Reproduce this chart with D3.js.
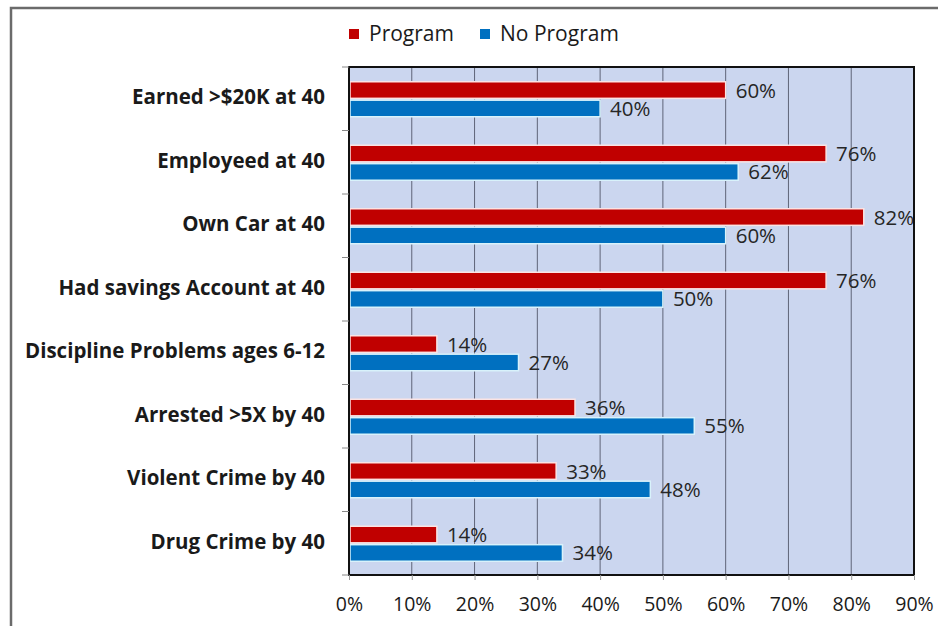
<!DOCTYPE html>
<html>
<head>
<meta charset="utf-8">
<script src="https://cdn.jsdelivr.net/npm/d3@7"></script>
<style>
  body { margin: 0; background: #fff; }
  svg { display: block; font-family: "Open Sans", "DejaVu Sans", sans-serif; }
</style>
</head>
<body>
<div id="chart"></div>
<script>
// categories, top to bottom
var categories = [
  "Earned >$20K at 40",
  "Employeed at 40",
  "Own Car at 40",
  "Had savings Account at 40",
  "Discipline Problems ages 6-12",
  "Arrested >5X by 40",
  "Violent Crime by 40",
  "Drug Crime by 40"
];
var seriesNames = ["Program", "No Program"];
var programValues = [0.60, 0.76, 0.82, 0.76, 0.14, 0.36, 0.33, 0.14];
var noProgramValues = [0.40, 0.62, 0.60, 0.50, 0.27, 0.55, 0.48, 0.34];
var xTicks = [0, 0.1, 0.2, 0.3, 0.4, 0.5, 0.6, 0.7, 0.8, 0.9];

var colors = ["#C00000", "#0070C0"];

var width = 938, height = 626;
var margin = {top: 67, right: 24, bottom: 51, left: 349};
var innerW = width - margin.left - margin.right;
var innerH = height - margin.top - margin.bottom;

var svg = d3.select("#chart").append("svg")
  .attr("width", width)
  .attr("height", height);

// outer chart frame
svg.append("rect")
  .attr("x", 11).attr("y", 8)
  .attr("width", 960).attr("height", 660)
  .attr("fill", "#fff")
  .attr("stroke", "#6b6b6b")
  .attr("stroke-width", 2.5);

var g = svg.append("g")
  .attr("transform", "translate(" + margin.left + "," + margin.top + ")");

var x = d3.scaleLinear().domain([0, 0.9]).range([0, innerW]);
var y = d3.scaleBand().domain(categories).range([0, innerH]).padding(0);
var sub = d3.scaleBand().domain(seriesNames).range([0, 35]).paddingInner(0.1);

// plot background
g.append("rect")
  .attr("width", innerW).attr("height", innerH)
  .attr("fill", "#CBD6EF");

// vertical gridlines
g.append("g").selectAll("line")
  .data(xTicks.slice(1, -1))
  .enter().append("line")
  .attr("x1", function (d) { return x(d); })
  .attr("x2", function (d) { return x(d); })
  .attr("y1", 0).attr("y2", innerH)
  .attr("stroke", "#5f6478")
  .attr("stroke-width", 1);

// bars
var groups = g.append("g").selectAll("g")
  .data(categories)
  .enter().append("g")
  .attr("transform", function (d) { return "translate(0," + (y(d) + y.bandwidth() / 2 - 17) + ")"; });

var rows = categories.map(function (c, i) {
  return [
    {cat: c, s: seriesNames[0], v: programValues[i], c: colors[0]},
    {cat: c, s: seriesNames[1], v: noProgramValues[i], c: colors[1]}
  ];
});

groups.selectAll("rect")
  .data(function (d, i) { return rows[i]; })
  .enter().append("rect")
  .attr("x", 1)
  .attr("y", function (d) { return sub(d.s); })
  .attr("width", function (d) { return x(d.v) - 1; })
  .attr("height", sub.bandwidth())
  .attr("fill", function (d) { return d.c; })
  .attr("stroke", function (d) { return d.s === "Program" ? "#fbe3e3" : "#d8f2fb"; })
  .attr("stroke-width", 1.5);

groups.selectAll("text")
  .data(function (d, i) { return rows[i]; })
  .enter().append("text")
  .attr("x", function (d) { return x(d.v) + 10; })
  .attr("y", function (d) { return sub(d.s) + sub.bandwidth() / 2 + 2; })
  .attr("dominant-baseline", "middle")
  .attr("font-size", 20.5)
  .attr("fill", "#262626")
  .text(function (d) { return Math.round(d.v * 100) + "%"; });

// plot border
g.append("rect")
  .attr("width", innerW).attr("height", innerH)
  .attr("fill", "none")
  .attr("stroke", "#111")
  .attr("stroke-width", 2);

// left axis (tick marks between categories)
var yTicks = d3.range(categories.length + 1).map(function (i) { return i * y.step(); });
g.append("g").selectAll("line")
  .data(yTicks)
  .enter().append("line")
  .attr("x1", -7).attr("x2", 0)
  .attr("y1", function (d) { return d; })
  .attr("y2", function (d) { return d; })
  .attr("stroke", "#888").attr("stroke-width", 1);

g.append("g").selectAll("text")
  .data(categories)
  .enter().append("text")
  .attr("x", -24)
  .attr("y", function (d) { return y(d) + y.bandwidth() / 2; })
  .attr("text-anchor", "end")
  .attr("dominant-baseline", "middle")
  .attr("font-size", 20.5)
  .attr("font-weight", "bold")
  .attr("fill", "#1a1a1a")
  .text(function (d) { return d; });

// bottom axis
var xAxis = d3.axisBottom(x)
  .tickValues(xTicks)
  .tickFormat(d3.format(".0%"))
  .tickSize(5)
  .tickPadding(17);

var xg = g.append("g")
  .attr("transform", "translate(0," + innerH + ")")
  .call(xAxis);
xg.select(".domain").remove();
xg.selectAll(".tick line").attr("stroke", "#999");
xg.selectAll(".tick text")
  .attr("font-size", 19.5)
  .attr("font-family", "\"Open Sans\", sans-serif")
  .attr("fill", "#1a1a1a");

// legend
var legend = svg.append("g").attr("transform", "translate(349,34)");
var legendX = [0, 131];
seriesNames.forEach(function (name, i) {
  var lg = legend.append("g").attr("transform", "translate(" + legendX[i] + ",0)");
  lg.append("rect")
    .attr("x", 0).attr("y", -5)
    .attr("width", 10).attr("height", 10)
    .attr("fill", colors[i]);
  lg.append("text")
    .attr("x", 20).attr("y", 1)
    .attr("dominant-baseline", "middle")
    .attr("font-size", 21)
    .attr("fill", "#1a1a1a")
    .text(name);
});
</script>
</body>
</html>
